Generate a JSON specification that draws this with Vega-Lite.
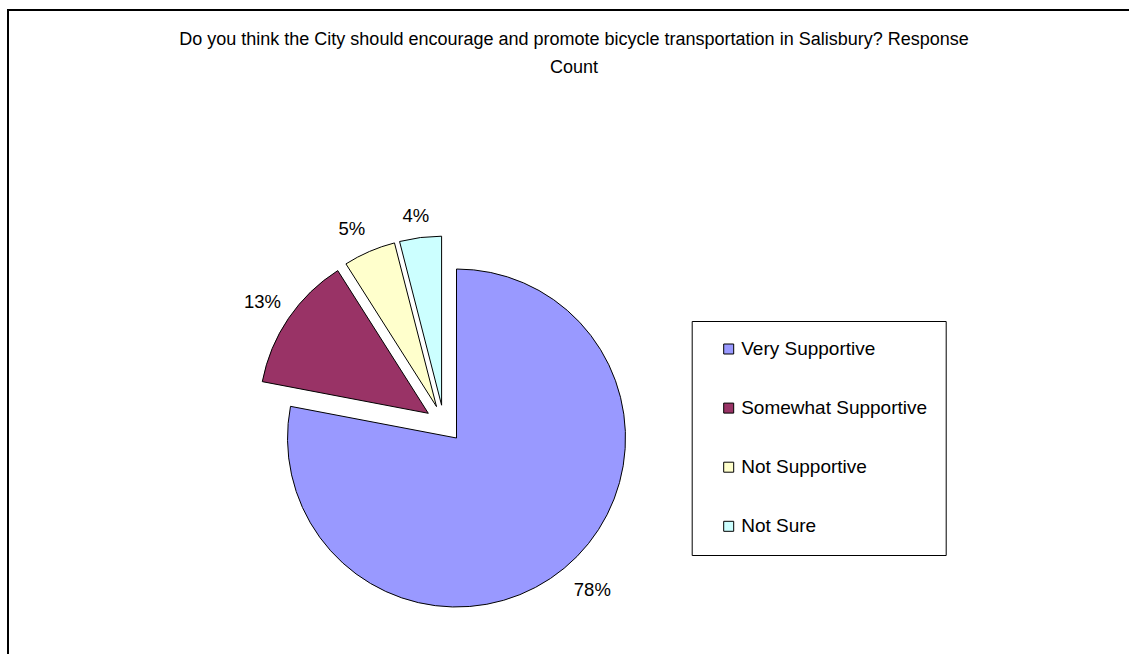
{
  "$schema": "https://vega.github.io/schema/vega-lite/v6.json",
  "autosize": {"type": "fit", "contains": "padding"},
  "width": 1129,
  "height": 654,
  "padding": {"left": 8, "top": 10, "right": -3, "bottom": -3},
  "background": "white",
  "view": {"stroke": "black", "strokeWidth": 2},
  "config": {
    "font": "Liberation Sans",
    "legend": {
      "strokeColor": "black",
      "strokeWidth": 1,
      "fillColor": "white",
      "padding": 18.5,
      "symbolType": "square",
      "symbolSize": 100,
      "symbolStrokeColor": "black",
      "symbolStrokeWidth": 1,
      "symbolOffset": 9,
      "labelOffset": 3,
      "labelFontSize": 19,
      "labelFont": "Liberation Sans",
      "labelColor": "black",
      "labelLimit": 400,
      "rowPadding": 39.1
    }
  },
  "title": {
    "text": ["Do you think the City should encourage and promote bicycle transportation in Salisbury? Response", "Count"],
    "fontSize": 18,
    "fontWeight": "normal",
    "font": "Liberation Sans",
    "color": "black",
    "anchor": "middle",
    "frame": "group",
    "offset": -67,
    "lineHeight": 28,
    "baseline": "top",
    "dx": 4
  },
  "data": {
    "values": [
      {"category": "Very Supportive", "share": 0.78},
      {"category": "Somewhat Supportive", "share": 0.13},
      {"category": "Not Supportive", "share": 0.05},
      {"category": "Not Sure", "share": 0.04}
    ]
  },
  "encoding": {
    "color": {
      "field": "category",
      "type": "nominal",
      "scale": {
        "domain": ["Very Supportive", "Somewhat Supportive", "Not Supportive", "Not Sure"],
        "range": ["#9999FF", "#993366", "#FFFFCC", "#CCFFFF"]
      },
      "legend": {"title": null, "orient": "none", "legendX": 683.7, "legendY": 311}
    }
  },
  "layer": [
    {
      "transform": [
        {"stack": "share", "groupby": [], "sort": [{"field": "share", "order": "descending"}], "as": ["s0", "s1"]},
        {"filter": "datum.category === 'Very Supportive'"}
      ],
      "mark": {"type": "arc", "outerRadius": 169, "stroke": "black", "strokeWidth": 1, "xOffset": -113.5, "yOffset": 104.5},
      "encoding": {
        "theta": {"field": "s0", "type": "quantitative", "scale": {"domain": [0, 1]}},
        "theta2": {"field": "s1"}
      }
    },
    {
      "transform": [
        {"stack": "share", "groupby": [], "sort": [{"field": "share", "order": "descending"}], "as": ["s0", "s1"]},
        {"filter": "datum.category === 'Somewhat Supportive'"}
      ],
      "mark": {"type": "arc", "outerRadius": 169, "stroke": "black", "strokeWidth": 1, "xOffset": -141.7, "yOffset": 79.8},
      "encoding": {
        "theta": {"field": "s0", "type": "quantitative", "scale": {"domain": [0, 1]}},
        "theta2": {"field": "s1"}
      }
    },
    {
      "transform": [
        {"stack": "share", "groupby": [], "sort": [{"field": "share", "order": "descending"}], "as": ["s0", "s1"]},
        {"filter": "datum.category === 'Not Supportive'"}
      ],
      "mark": {"type": "arc", "outerRadius": 169, "stroke": "black", "strokeWidth": 1, "xOffset": -133.5, "yOffset": 73.1},
      "encoding": {
        "theta": {"field": "s0", "type": "quantitative", "scale": {"domain": [0, 1]}},
        "theta2": {"field": "s1"}
      }
    },
    {
      "transform": [
        {"stack": "share", "groupby": [], "sort": [{"field": "share", "order": "descending"}], "as": ["s0", "s1"]},
        {"filter": "datum.category === 'Not Sure'"}
      ],
      "mark": {"type": "arc", "outerRadius": 169, "stroke": "black", "strokeWidth": 1, "xOffset": -128.4, "yOffset": 71.7},
      "encoding": {
        "theta": {"field": "s0", "type": "quantitative", "scale": {"domain": [0, 1]}},
        "theta2": {"field": "s1"}
      }
    },
    {
      "mark": {"type": "text", "radius": 217, "xOffset": -126, "yOffset": 90.5, "dx": 10, "dy": -1.5, "fontSize": 18.5, "font": "Liberation Sans"},
      "encoding": {
        "theta": {"field": "share", "type": "quantitative", "stack": true, "scale": {"domain": [0, 1]}},
        "order": {"field": "share", "sort": "descending"},
        "text": {"condition": {"test": "datum.category === 'Very Supportive'", "field": "share", "type": "quantitative", "format": ".0%"}, "value": ""},
        "color": {"value": "black"}
      }
    },
    {
      "mark": {"type": "text", "radius": 217, "xOffset": -126, "yOffset": 90.5, "dx": -2, "dy": 0, "fontSize": 18.5, "font": "Liberation Sans"},
      "encoding": {
        "theta": {"field": "share", "type": "quantitative", "stack": true, "scale": {"domain": [0, 1]}},
        "order": {"field": "share", "sort": "descending"},
        "text": {"condition": {"test": "datum.category === 'Somewhat Supportive'", "field": "share", "type": "quantitative", "format": ".0%"}, "value": ""},
        "color": {"value": "black"}
      }
    },
    {
      "mark": {"type": "text", "radius": 217, "xOffset": -126, "yOffset": 90.5, "dx": -6, "dy": 4.5, "fontSize": 18.5, "font": "Liberation Sans"},
      "encoding": {
        "theta": {"field": "share", "type": "quantitative", "stack": true, "scale": {"domain": [0, 1]}},
        "order": {"field": "share", "sort": "descending"},
        "text": {"condition": {"test": "datum.category === 'Not Supportive'", "field": "share", "type": "quantitative", "format": ".0%"}, "value": ""},
        "color": {"value": "black"}
      }
    },
    {
      "mark": {"type": "text", "radius": 217, "xOffset": -126, "yOffset": 90.5, "dx": -1, "dy": 7.5, "fontSize": 18.5, "font": "Liberation Sans"},
      "encoding": {
        "theta": {"field": "share", "type": "quantitative", "stack": true, "scale": {"domain": [0, 1]}},
        "order": {"field": "share", "sort": "descending"},
        "text": {"condition": {"test": "datum.category === 'Not Sure'", "field": "share", "type": "quantitative", "format": ".0%"}, "value": ""},
        "color": {"value": "black"}
      }
    }
  ]
}
